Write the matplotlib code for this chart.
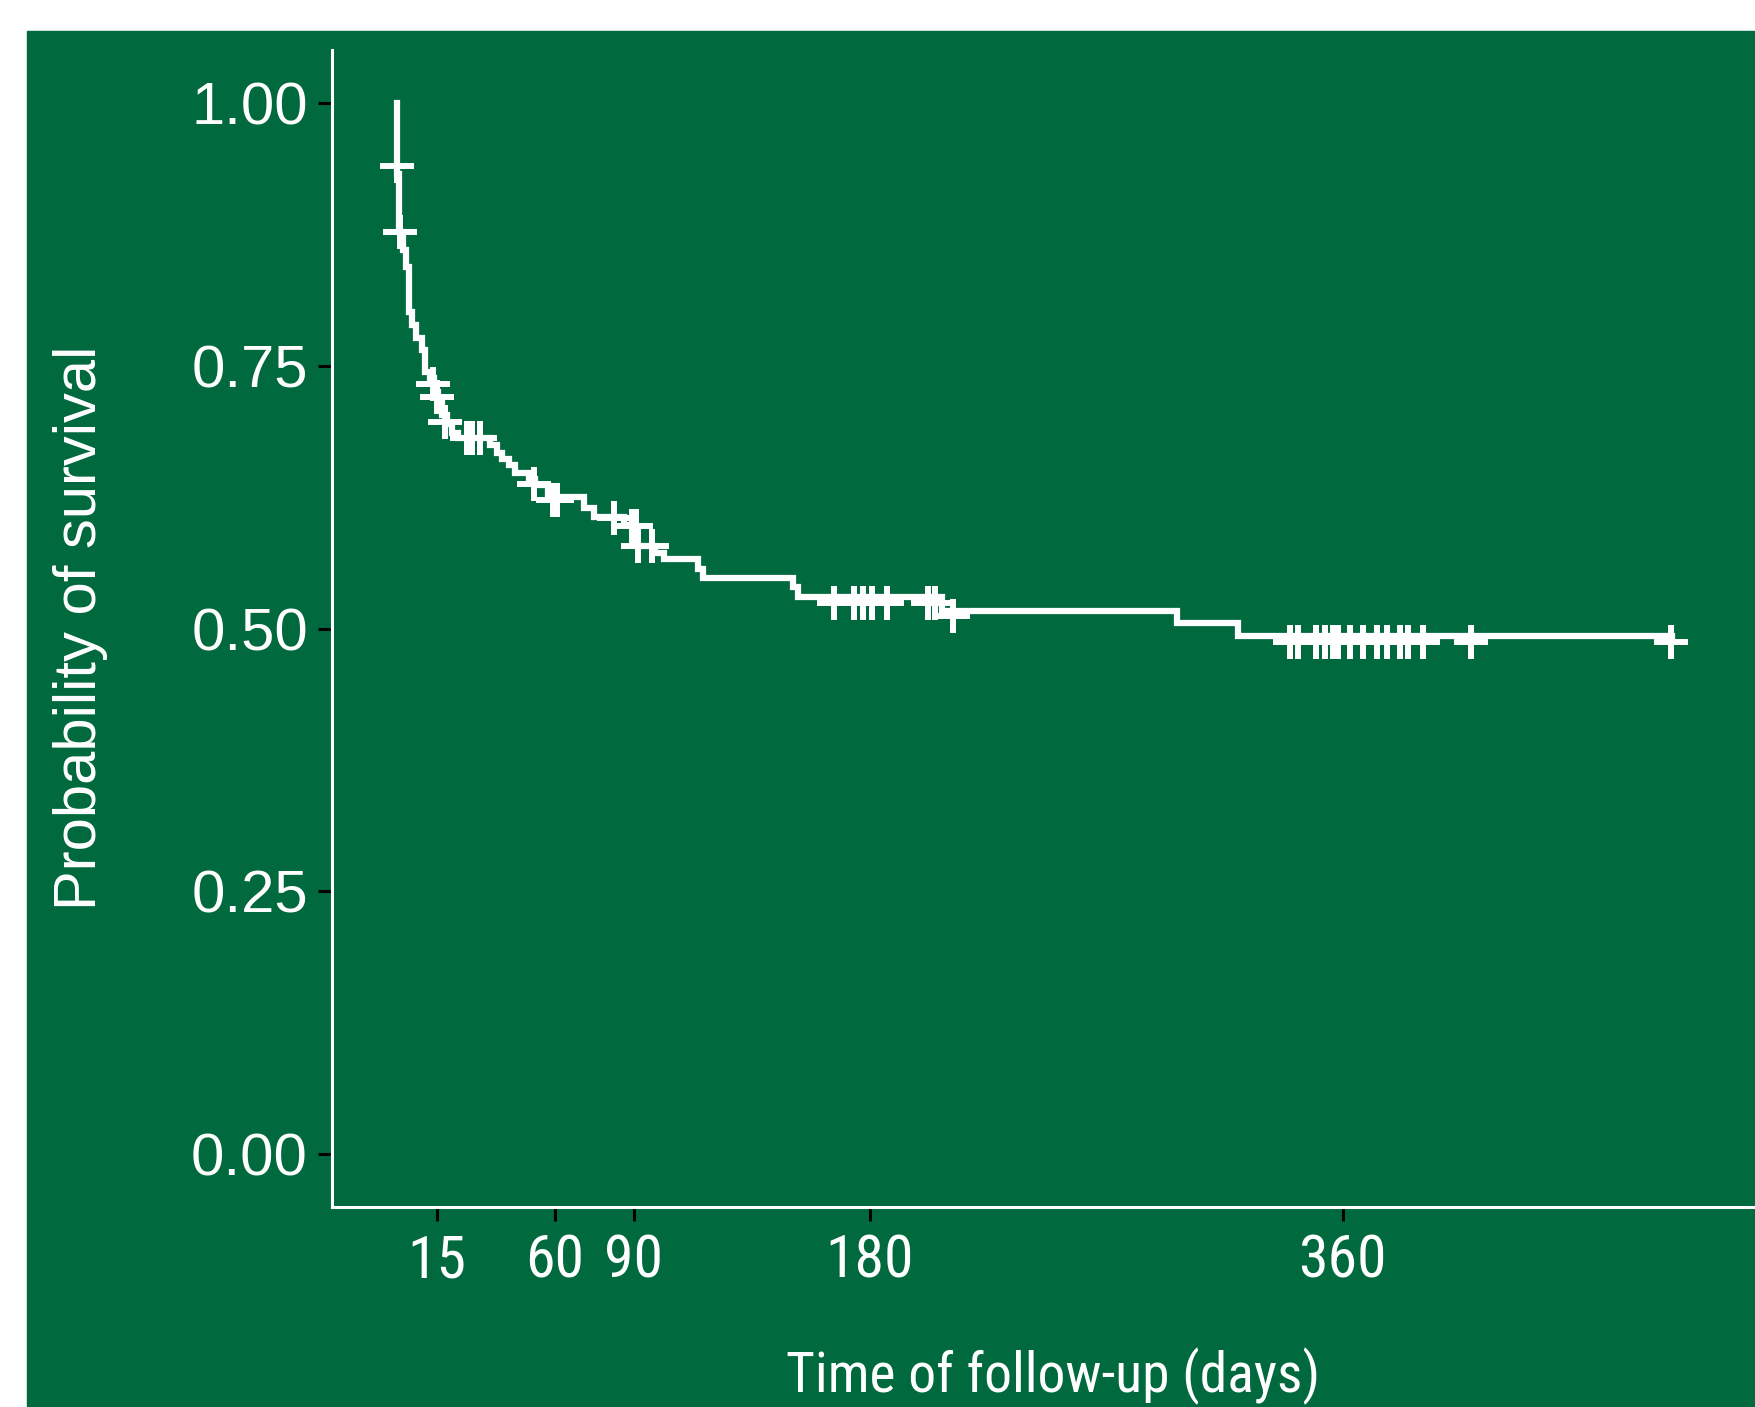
import matplotlib
matplotlib.use('Agg')
import matplotlib.pyplot as plt
from matplotlib import font_manager
from matplotlib.patches import Rectangle

# Kaplan-Meier steps (day of drop, survival after drop)
event_days = [0.0, 0.8, 2.2, 3.3, 4.5, 5.7, 7.0, 9.4, 10.5, 12.5, 14.0, 15.5,
              17.0, 19.0, 21.0, 23.0, 35.5, 38.0, 40.0, 42.5, 45.0, 50.0, 52.5,
              57.5, 71.0, 75.0, 86.5, 90.0, 91.0, 98.0, 101.5, 114.5, 116.5,
              150.6, 152.6, 207.5, 297.0, 320.0]
surv_after = [0.932, 0.877, 0.860, 0.844, 0.801, 0.789, 0.776, 0.765, 0.744,
              0.738, 0.725, 0.714, 0.703, 0.694, 0.686, 0.681, 0.674, 0.667,
              0.661, 0.655, 0.648, 0.642, 0.636, 0.625, 0.615, 0.606, 0.598,
              0.588, 0.578, 0.572, 0.566, 0.557, 0.548, 0.539, 0.530, 0.517,
              0.505, 0.493]
last_day = 485.5

# censored observations (+ marks)
censor_days = [0.0, 0.9, 13.5, 15.0, 18.3, 26.5, 28.5, 31.4, 52.0, 59.2, 60.8,
               82.5, 89.5, 91.0, 91.8, 97.0,
               166.3, 174.0, 177.4, 180.6, 186.4, 202.0, 204.8, 211.7,
               340.0, 343.0, 350.0, 353.3, 356.4, 358.3, 362.8, 367.8, 373.0,
               376.9, 382.0, 385.0, 390.7, 408.8, 485.0]
censor_surv = [0.940, 0.877, 0.732, 0.720, 0.696, 0.681, 0.681, 0.681, 0.637,
               0.622, 0.622, 0.605, 0.597, 0.597, 0.578, 0.578,
               0.524, 0.524, 0.524, 0.524, 0.524, 0.524, 0.524, 0.512,
               0.487, 0.487, 0.487, 0.487, 0.487, 0.487, 0.487, 0.487, 0.487,
               0.487, 0.487, 0.487, 0.487, 0.487, 0.487]

x_ticks = [15, 60, 90, 180, 360]
y_ticks = [0.0, 0.25, 0.5, 0.75, 1.0]
y_ticklabels = ['0.00', '0.25', '0.50', '0.75', '1.00']

green = '#00693E'
regular = ['Liberation Sans', 'DejaVu Sans']

# x axis text in the original is a condensed Arial-like face; use one if present
installed = {f.name for f in font_manager.fontManager.ttflist}
narrow = None
for cand in ['Liberation Sans Narrow', 'Arial Narrow', 'Roboto Condensed',
             'Open Sans Condensed', 'Noto Sans Condensed']:
    if cand in installed:
        narrow = cand
        break
if narrow is None:
    others = sorted(n for n in installed if 'Narrow' in n or 'Condensed' in n)
    narrow = others[0] if others else None
if narrow is not None:
    fam = [narrow, 'Liberation Sans']
    xfont = font_manager.FontProperties(family=fam, size=43)
    lblfont = font_manager.FontProperties(family=fam, size=40)
else:
    xfont = font_manager.FontProperties(family=regular, size=40)
    lblfont = font_manager.FontProperties(family=regular, size=36)

fig = plt.figure(figsize=(17.56, 14.07), dpi=100, facecolor='white')
# green panel (white margin on top and left as in the original crop)
fig.patches.append(Rectangle((27 / 1756, 0), 1, 1 - 31 / 1407,
                             transform=fig.transFigure, color=green, zorder=-5))

ax = fig.add_axes([0.1888, 0.1421, 0.8226, 0.8224])
ax.set_zorder(2)
ax.set_facecolor(green)

xs = [0.0] + event_days + [last_day]
ys = [1.0] + surv_after + [surv_after[-1]]
ax.step(xs, ys, where='post', color='white', lw=4.5, solid_joinstyle='miter')
ax.plot(censor_days, censor_surv, ls='none', marker='+', ms=24.5, mew=4.3,
        color='white')

ax.set_xlim(-25, 525)
ax.set_ylim(-0.05, 1.05)

for s in ['top', 'right']:
    ax.spines[s].set_visible(False)
for s in ['left', 'bottom']:
    ax.spines[s].set_color('white')
    ax.spines[s].set_linewidth(2.2)

ax.set_xticks(x_ticks)
ax.set_xticklabels([str(t) for t in x_ticks], fontproperties=xfont,
                   color='white')
ax.set_yticks(y_ticks)
ax.set_yticklabels(y_ticklabels, family=regular, fontsize=43, color='white')
ax.tick_params(axis='both', length=10, width=2.2, color='black')
ax.tick_params(axis='x', pad=8)
ax.tick_params(axis='y', pad=7)

fig.text(81 / 1756, 1 - 628 / 1407, 'Probability of survival', rotation=90,
         ha='center', va='center', family=regular, fontsize=43, color='white')
fig.text(1053 / 1756, 1 - 1392 / 1407, 'Time of follow-up (days)',
         ha='center', va='baseline', fontproperties=lblfont, color='white')

fig.savefig('out.png', dpi=100, facecolor='white')
plt.close('all')
